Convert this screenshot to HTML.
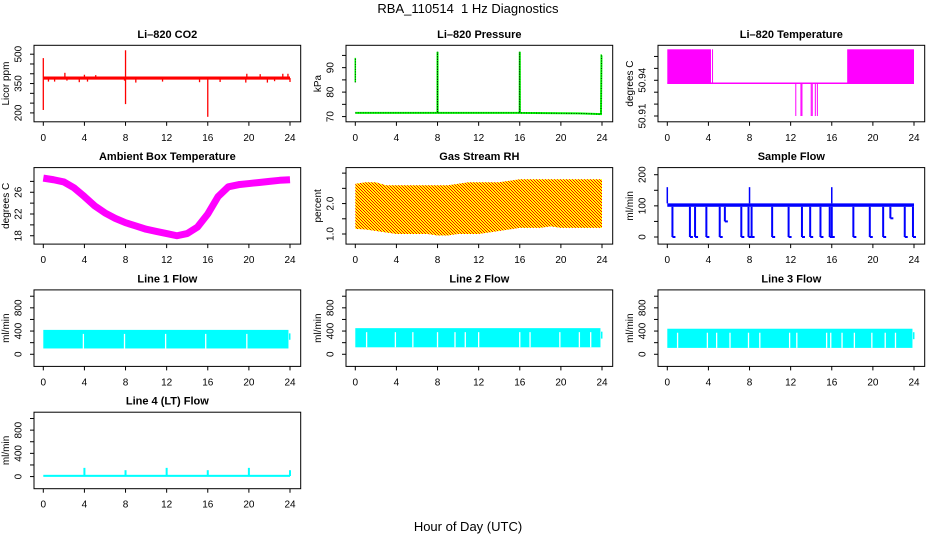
<!DOCTYPE html>
<html><head><meta charset="utf-8"><style>
html,body{margin:0;padding:0;background:#fff}
svg{display:block;font-family:"Liberation Sans",sans-serif}
</style></head><body>
<svg id="c" width="936" height="540" viewBox="0 0 936 540" xmlns="http://www.w3.org/2000/svg">
<defs>
<pattern id="rhpat" width="3" height="3" patternUnits="userSpaceOnUse">
<rect width="3" height="3" fill="#ffff00"/><rect x="0" y="0" width="1" height="1" fill="#ff0000"/><rect x="2" y="2" width="1" height="1" fill="#ff0000"/><rect x="1" y="1" width="1" height="1" fill="#ff0000"/>
</pattern>
</defs>
<text x="468" y="13" text-anchor="middle" font-size="13" style="white-space:pre">RBA_110514  1 Hz Diagnostics</text>
<text x="468" y="531" text-anchor="middle" font-size="13">Hour of Day (UTC)</text>
</svg>
<script>
// ---- data ----
const xTicks = [0,4,8,12,16,20,24];
// CO2
const co2Base = 378;
const co2SpikeHours = [0,0,8,8,16,2.1,4.0,5.1,19.8,21.1,23.3,23.8,0.5,1.1,2.3,3.5,4.3,7.9,9.0,11.6,15.2,17.2,19.7,21.8,22.5,24];
const co2SpikeValues = [215,480,245,520,180,405,395,393,400,398,400,400,360,360,365,357,360,365,355,360,357,358,355,355,362,358];
// Pressure
const presHours = [0,0.05,7.99,8,8.01,15.99,16,16.01,21.7,23.9,23.95,24];
const presValues = [71.5,71.5,71.5,96.5,71.5,71.5,96.5,71.5,71.3,71.0,95,95];
const presStartHigh = [84,94];
// Li-820 temperature
const tBlocks = [[0,4.25],[17.5,24]];
const tHigh = 50.966, tBase = 50.9375;
const tDropHours = [4.4,12.5,13.0,13.1,14.0,14.1,14.4,14.6];
const tDropValues = [50.966,50.91,50.91,50.91,50.91,50.91,50.91,50.91];
// Ambient box temperature
const ambHours = [0,1,2,3,4,5,6,7,8,9,10,11,12,13,14,15,16,17,18,19,20,21,22,23,24];
const ambValues = [28.6,28.3,27.9,26.8,25.2,23.5,22.2,21.2,20.4,19.8,19.2,18.8,18.4,18.0,18.4,19.6,22.0,25.2,27.0,27.4,27.6,27.8,28.0,28.2,28.3];
// Gas stream RH
const rhHours = ambHours;
const rhUpper = [2.65,2.7,2.7,2.6,2.6,2.6,2.6,2.6,2.6,2.6,2.65,2.7,2.7,2.7,2.7,2.75,2.8,2.8,2.8,2.8,2.8,2.8,2.8,2.8,2.8];
const rhLower = [1.17,1.15,1.1,1.05,1.0,1.0,1.0,1.0,0.95,0.95,1.0,1.0,1.0,1.05,1.1,1.15,1.2,1.2,1.2,1.25,1.2,1.2,1.2,1.2,1.2];
// Sample flow
const sfLow = 97, sfHigh = 108;
const sfDropHours = [0.5,2.2,2.7,3.8,5.1,5.6,7.2,7.9,8.2,10.2,11.8,13.1,13.9,14.9,15.8,16.0,18.1,19.7,21.0,21.7,23.1,23.9];
const sfDropValues = [0,0,0,0,0,50,0,0,0,0,0,0,0,0,0,0,0,0,0,60,0,0];
const sfSpikeHours = [0,8,16];
const sfSpikeValues = [160,160,160];
// Line flows
const l1Range = [100,420], l1Gaps = [3.9,7.9,11.9,15.8,19.8];
const l2Range = [120,450], l2Gaps = [1.1,3.9,5.6,8.0,9.7,10.7,12.0,16.0,17.0,19.9,21.8,22.9];
const l3Range = [110,440], l3Gaps = [1.0,3.9,4.8,6.1,7.9,9.0,11.9,12.6,15.5,15.9,17.0,18.2,19.9,21.2,22.2];
const l4Base = 10;
const l4SpikeHours = [4,8,12,16,20,24];
const l4SpikeValues = [150,110,150,110,150,110];

// ---- layout ----
const svg = document.getElementById('c');
const NS = 'http://www.w3.org/2000/svg';
const colX = [34,346,658], rowY = [45.3,167.6,289.9,412.2], W = 266.7, H = 76.5;
function mk(tag, attrs, parent){const e=document.createElementNS(NS,tag);for(const k in attrs)e.setAttribute(k,attrs[k]);(parent||svg).appendChild(e);return e;}

function panel(col,row,title,ytitle,ymin,ymax,yticks,ylabels,name){
  const x0=colX[col], y0=rowY[row];
  const g=mk('g',{});
  
  
  const xs=h=>x0+9.3+h*(246.7/24);
  const ys=v=>y0+H-4-(v-ymin)/(ymax-ymin)*(H-8);
  const plot=mk('g',{},g);
  
  
  const t=mk('text',{x:x0+W/2,y:y0-7.5,'text-anchor':'middle','font-size':'11','font-weight':'bold'},g);
  t.textContent=title;
  
  
  const box=mk('rect',{x:x0,y:y0,width:W,height:H,fill:'none',stroke:'#000','stroke-width':1},g);
  
  
  const xa=mk('g',{},g);
  
  
  xTicks.forEach(v=>{mk('line',{x1:xs(v),x2:xs(v),y1:y0+H,y2:y0+H+4,stroke:'#000'},xa);
    const tl=mk('text',{x:xs(v),y:y0+H+19,'text-anchor':'middle','font-size':'10'},xa);tl.textContent=v;});
  const ya=mk('g',{},g);
  
  
  yticks.forEach(v=>mk('line',{x1:x0-4,x2:x0,y1:ys(v),y2:ys(v),stroke:'#000'},ya));
  ylabels.forEach(v=>{const tl=mk('text',{x:x0-12.5,y:ys(v),'text-anchor':'middle','font-size':'10',transform:`rotate(-90 ${x0-12.5} ${ys(v)})`},ya);
    tl.textContent=v;});
  const yt=mk('text',{'text-anchor':'middle','font-size':'10',transform:`translate(${x0-25},${y0+H/2}) rotate(-90)`},ya);
  yt.textContent=ytitle;
  
  
  return {xs,ys,plot};
}

// CO2
(()=>{const p=panel(0,0,'Li\u2013820 CO2','Licor ppm',175,525,[200,250,300,350,400,450,500],[200,350,500],'co2');
  const b=mk('rect',{x:p.xs(0),y:p.ys(co2Base+8),width:p.xs(24)-p.xs(0),height:p.ys(co2Base-8)-p.ys(co2Base+8),fill:'#ff0000'},p.plot);
  
  co2SpikeHours.forEach((h,i)=>{const l=mk('line',{x1:p.xs(h),x2:p.xs(h),y1:p.ys(co2Base),y2:p.ys(co2SpikeValues[i]),stroke:'#ff0000','stroke-width':1.3},p.plot);
    });
})();
// Pressure
(()=>{const p=panel(1,0,'Li\u2013820 Pressure','kPa',69.5,97.5,[70,75,80,85,90,95],[70,80,90],'pressure');
  const pts=presHours.map((h,i)=>p.xs(h)+','+p.ys(presValues[i])).join(' ');
  const l=mk('polyline',{points:pts,fill:'none',stroke:'#00ff00','stroke-width':2},p.plot);
  
  mk('polyline',{points:pts,fill:'none',stroke:'#000','stroke-width':0.8,'stroke-dasharray':'1 1.5'},p.plot);
  const s=mk('line',{x1:p.xs(0),x2:p.xs(0),y1:p.ys(presStartHigh[0]),y2:p.ys(presStartHigh[1]),stroke:'#00ff00','stroke-width':1.5},p.plot);
  
  mk('line',{x1:p.xs(0),x2:p.xs(0),y1:p.ys(presStartHigh[0]),y2:p.ys(presStartHigh[1]),stroke:'#000','stroke-width':0.8,'stroke-dasharray':'1 1.5'},p.plot);
})();
// Li-820 temperature
(()=>{const p=panel(2,0,'Li\u2013820 Temperature','degrees C',50.9085,50.966,[50.91,50.92,50.93,50.94,50.95,50.96],[50.91,50.94],'li820-temp');
  tBlocks.forEach(bk=>{const r=mk('rect',{x:p.xs(bk[0]),y:p.ys(tHigh),width:p.xs(bk[1])-p.xs(bk[0]),height:p.ys(tBase)-p.ys(tHigh),fill:'#ff00ff'},p.plot);
    });
  const bl=mk('line',{x1:p.xs(0),x2:p.xs(24),y1:p.ys(tBase),y2:p.ys(tBase),stroke:'#ff00ff','stroke-width':1.5},p.plot);
  
  tDropHours.forEach((h,i)=>{const l=mk('line',{x1:p.xs(h),x2:p.xs(h),y1:p.ys(tBase),y2:p.ys(tDropValues[i]),stroke:'#ff00ff','stroke-width':1},p.plot);
    });
})();
// Ambient
(()=>{const p=panel(0,1,'Ambient Box Temperature','degrees C',17.2,29.8,[18,20,22,24,26,28],[18,22,26],'ambient-temp');
  const pts=ambHours.map((h,i)=>p.xs(h)+','+p.ys(ambValues[i])).join(' ');
  const l=mk('polyline',{points:pts,fill:'none',stroke:'#ff00ff','stroke-width':7,'stroke-linejoin':'round'},p.plot);
  
})();
// RH
(()=>{const p=panel(1,1,'Gas Stream RH','percent',0.8,3.05,[1.0,1.5,2.0,2.5,3.0],['1.0','2.0'],'gas-rh');
  const up=rhHours.map((h,i)=>p.xs(h)+','+p.ys(rhUpper[i]));
  const lo=rhHours.map((h,i)=>p.xs(h)+','+p.ys(rhLower[i])).reverse();
  const a=mk('polygon',{points:up.concat(lo).join(' '),fill:'url(#rhpat)'},p.plot);
  
})();
// Sample flow
(()=>{const p=panel(2,1,'Sample Flow','ml/min',-10,210,[0,50,100,150,200],[0,100,200],'sample-flow');
  const b=mk('rect',{x:p.xs(0),y:p.ys(sfHigh),width:p.xs(24)-p.xs(0),height:p.ys(sfLow)-p.ys(sfHigh),fill:'#0000ff'},p.plot);
  
  sfDropHours.forEach((h,i)=>{const l=mk('line',{x1:p.xs(h),x2:p.xs(h),y1:p.ys(sfLow),y2:p.ys(sfDropValues[i]),stroke:'#0000ff','stroke-width':2},p.plot);
    
    mk('line',{x1:p.xs(h),x2:p.xs(h)+3,y1:p.ys(sfDropValues[i]),y2:p.ys(sfDropValues[i]),stroke:'#0000ff','stroke-width':2},p.plot);});
  sfSpikeHours.forEach((h,i)=>{const l=mk('line',{x1:p.xs(h),x2:p.xs(h),y1:p.ys(sfHigh),y2:p.ys(sfSpikeValues[i]),stroke:'#0000ff','stroke-width':1.5},p.plot);
    });
})();
// Line flows
function lineFlow(col,row,title,range,gaps,name){
  const p=panel(col,row,title,'ml/min',-140,1040,[0,200,400,600,800,1000],[0,400,800],name);
  const b=mk('rect',{x:p.xs(0),y:p.ys(range[1]),width:p.xs(23.85)-p.xs(0),height:p.ys(range[0])-p.ys(range[1]),fill:'#00ffff'},p.plot);
  
  mk('rect',{x:p.xs(23.9),y:p.ys(range[1]-60),width:1.5,height:p.ys(range[0]+150)-p.ys(range[1]-60),fill:'#00ffff'},p.plot);
  gaps.forEach(h=>{const l=mk('line',{x1:p.xs(h),x2:p.xs(h),y1:p.ys(range[1])+4,y2:p.ys(range[0]),stroke:'#fff','stroke-width':1.3},p.plot);
    });
}
lineFlow(0,2,'Line 1 Flow',l1Range,l1Gaps,'line1-flow');
lineFlow(1,2,'Line 2 Flow',l2Range,l2Gaps,'line2-flow');
lineFlow(2,2,'Line 3 Flow',l3Range,l3Gaps,'line3-flow');
(()=>{const p=panel(0,3,'Line 4 (LT) Flow','ml/min',-140,1040,[0,200,400,600,800,1000],[0,400,800],'line4-flow');
  const b=mk('rect',{x:p.xs(0),y:p.ys(l4Base+20),width:p.xs(24)-p.xs(0),height:p.ys(l4Base-15)-p.ys(l4Base+20),fill:'#00ffff'},p.plot);
  
  l4SpikeHours.forEach((h,i)=>{const l=mk('line',{x1:p.xs(h),x2:p.xs(h),y1:p.ys(l4Base),y2:p.ys(l4SpikeValues[i]),stroke:'#00ffff','stroke-width':2},p.plot);
    });
})();
</script>
</body></html>
